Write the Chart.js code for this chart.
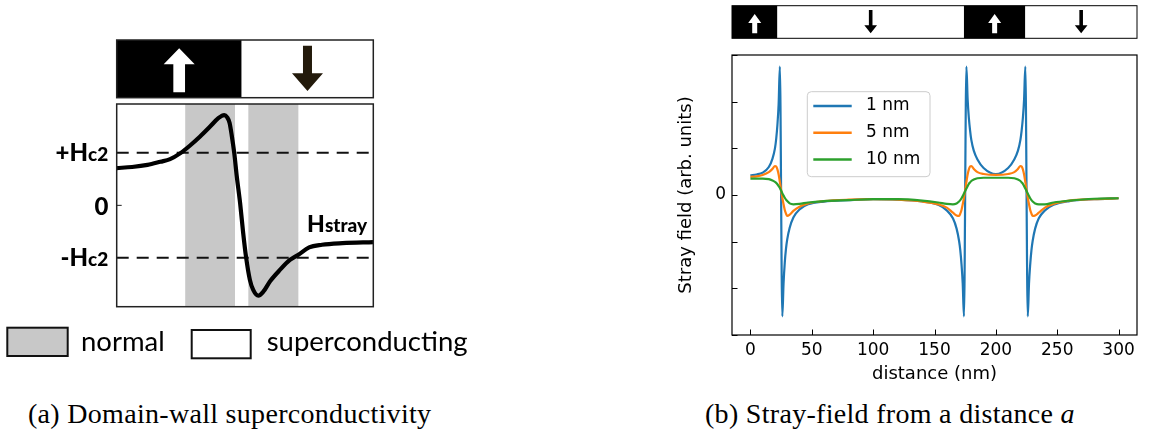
<!DOCTYPE html>
<html>
<head>
<meta charset="utf-8">
<script src="https://cdn.jsdelivr.net/npm/chart.js@4.4.1/dist/chart.umd.min.js"></script>
<style>
  body { margin: 0; background: #fff; width: 1150px; height: 433px; position: relative; overflow: hidden; }
  canvas { position: absolute; }
  #chartA { left: 0; top: 0; }
  #chartB { left: 600px; top: 0; }
  .caption { position: absolute; font-family: "Liberation Serif", serif; font-size: 28px; line-height: 28px;
             letter-spacing: 0.3px; white-space: nowrap; color: #000; }
</style>
</head>
<body>
<canvas id="chartA" width="480" height="380"></canvas>
<canvas id="chartB" width="550" height="395"></canvas>
<div class="caption" style="left:28px; top:400px;">(a) Domain-wall superconductivity</div>
<div class="caption" style="left:705px; top:400px;">(b) Stray-field from a distance <i>a</i></div>
<script>
// ---- panel (a): schematic of H_stray across one domain wall (x in %, y in units of Hc2)
const schemeX = [0, 6, 12, 17, 20.8, 24.7, 28.6, 32.5, 36.4, 39.6, 41.9, 43, 44, 44.9, 45.8, 46.8, 48.1,
                 49.3, 50.4, 51.9, 53.2, 55.2, 57.2, 59.7, 63.6, 67.5, 70.8, 75, 80, 88, 100];
const hStray = [0.71, 0.73, 0.77, 0.83, 0.88, 0.99, 1.14, 1.31, 1.5, 1.66, 1.72, 1.68, 1.57, 1.31, 1.0, 0.55, 0.04,
                -0.53, -0.98, -1.42, -1.61, -1.72, -1.64, -1.45, -1.23, -1.04, -0.94, -0.8, -0.75, -0.72, -0.70];
const hc2Levels = [1, -1];
const normalStart = [26.7, 51.3];
const normalEnd = [46.1, 70.8];
const domainEdgesA = [0, 48.7, 100];
const domainUpA = [true, false];
const yTicksA = [1, 0, -1];
const yTickBig = ['+H', '0', '-H'];
const yTickSmall = ['c2', '', 'c2'];
const legendA = ['normal', 'superconducting'];
const legendFillA = ['#c8c8c8', '#ffffff'];

// ---- panel (b): stray field at distance a
const distance = [0, 5, 10, 15, 18, 20, 21, 22, 23, 24, 26, 27, 28, 29, 30, 32, 35, 40, 47, 60, 80, 100,
                  120, 140, 153, 160, 165, 168, 170, 171, 172, 173, 174, 176, 177, 178, 179, 180, 182, 185, 190,
                  200, 210, 215, 218, 220, 221, 222, 223, 224, 226, 227, 228, 229, 230, 232, 235, 240, 247,
                  260, 280, 300];
const field1nm = [0.42, 0.44, 0.48, 0.6, 0.78, 1.0, 1.2, 1.5, 1.95, 2.75, -2.6, -1.9, -1.45, -1.15, -0.95, -0.7,
                  -0.48, -0.31, -0.2, -0.14, -0.11, -0.09,
                  -0.1, -0.14, -0.21, -0.33, -0.5, -0.72, -0.98, -1.18, -1.48, -1.9, -2.6, 2.75, 2.05, 1.65, 1.38,
                  1.18, 0.95, 0.76, 0.58,
                  0.45, 0.58, 0.76, 0.95, 1.18, 1.38, 1.65, 2.05, 2.75, -2.6, -1.9, -1.48, -1.18, -0.98, -0.72,
                  -0.5, -0.33, -0.21,
                  -0.13, -0.09, -0.07];
const field5nm = [0.39, 0.4, 0.43, 0.49, 0.56, 0.62, 0.61, 0.55, 0.44, 0.28, -0.06, -0.2, -0.32, -0.4, -0.45, -0.42,
                  -0.34, -0.25, -0.18, -0.13, -0.1, -0.09,
                  -0.1, -0.14, -0.2, -0.27, -0.38, -0.44, -0.45, -0.4, -0.32, -0.2, -0.06, 0.28, 0.44, 0.55, 0.61,
                  0.62, 0.56, 0.49, 0.45,
                  0.43, 0.45, 0.49, 0.56, 0.62, 0.61, 0.55, 0.44, 0.28, -0.06, -0.2, -0.32, -0.4, -0.45, -0.44,
                  -0.38, -0.27, -0.19,
                  -0.12, -0.09, -0.07];
const field10nm = [0.35, 0.35, 0.35, 0.34, 0.31, 0.28, 0.26, 0.23, 0.19, 0.15, 0.04, -0.01, -0.06, -0.1, -0.13, -0.18,
                   -0.2, -0.19, -0.16, -0.13, -0.11, -0.09,
                   -0.09, -0.12, -0.16, -0.19, -0.2, -0.18, -0.14, -0.11, -0.07, -0.02, 0.03, 0.14, 0.19, 0.24, 0.27,
                   0.3, 0.33, 0.36, 0.37,
                   0.37, 0.37, 0.36, 0.33, 0.3, 0.27, 0.24, 0.19, 0.14, 0.03, -0.02, -0.07, -0.11, -0.14, -0.18,
                   -0.2, -0.2, -0.16,
                   -0.12, -0.08, -0.07];
const seriesLabels = ['1 nm', '5 nm', '10 nm'];
const seriesColors = ['#1f77b4', '#ff7f0e', '#2ca02c'];
const xTicks = [0, 50, 100, 150, 200, 250, 300];
const yTicks = [-3, -2, -1, 0, 1, 2, 3];
const domainEdges = [-15, 22, 174, 224, 315];
const domainUp = [true, false, true, false];

// draw a block arrow, tip at yTip
function arrow(ctx, cx, yTail, yTip, headW, headH, shaftW, color) {
    const dir = yTip < yTail ? 1 : -1;
    const yBase = yTip + dir * headH;
    ctx.beginPath();
    ctx.moveTo(cx, yTip);
    ctx.lineTo(cx + headW / 2, yBase);
    ctx.lineTo(cx + shaftW / 2, yBase);
    ctx.lineTo(cx + shaftW / 2, yTail);
    ctx.lineTo(cx - shaftW / 2, yTail);
    ctx.lineTo(cx - shaftW / 2, yBase);
    ctx.lineTo(cx - headW / 2, yBase);
    ctx.closePath();
    ctx.fillStyle = color;
    ctx.fill();
}

const schemePlugin = {
    id: 'scheme',
    beforeDatasetsDraw(chart) {
        const { ctx, chartArea: a, scales: { x } } = chart;
        ctx.save();
        ctx.fillStyle = '#c8c8c8';
        normalStart.forEach((s, i) => {
            const x0 = x.getPixelForValue(s);
            const x1 = x.getPixelForValue(normalEnd[i]);
            ctx.fillRect(x0, a.top, x1 - x0, a.bottom - a.top);
        });
        ctx.restore();
    },
    afterDraw(chart) {
        const { ctx, chartArea: a, scales: { x, y } } = chart;
        ctx.save();
        // frame
        ctx.strokeStyle = '#222';
        ctx.lineWidth = 1.5;
        ctx.strokeRect(a.left, a.top, a.right - a.left, a.bottom - a.top);
        ctx.beginPath();
        ctx.moveTo(a.left, y.getPixelForValue(0));
        ctx.lineTo(a.left + 5, y.getPixelForValue(0));
        ctx.lineWidth = 1;
        ctx.stroke();

        // magnetic domains above the plot
        const barTop = a.top - 64, barBot = a.top - 6.3;
        for (let i = 0; i < domainUpA.length; i++) {
            const x0 = x.getPixelForValue(domainEdgesA[i]);
            const x1 = x.getPixelForValue(domainEdgesA[i + 1]);
            const cx = (x0 + x1) / 2;
            ctx.fillStyle = domainUpA[i] ? '#000' : '#fff';
            ctx.fillRect(x0, barTop, x1 - x0, barBot - barTop);
            if (domainUpA[i]) arrow(ctx, cx, barTop + 52.3, barTop + 8.3, 31, 16, 11.7, '#fff');
            else arrow(ctx, cx, barTop + 5.7, barTop + 51, 31, 17.7, 9, '#231a0b');
        }
        ctx.strokeStyle = '#222';
        ctx.lineWidth = 1.5;
        ctx.strokeRect(x.getPixelForValue(0), barTop, x.getPixelForValue(100) - x.getPixelForValue(0), barBot - barTop);

        // y labels (+Hc2, 0, -Hc2)
        ctx.fillStyle = '#000';
        ctx.textBaseline = 'alphabetic';
        ctx.textAlign = 'left';
        const rightX = a.left - 8.4;
        yTicksA.forEach((v, i) => {
            const yy = y.getPixelForValue(v) + 8;
            ctx.font = '900 19px Lato';
            const ws = ctx.measureText(yTickSmall[i]).width;
            ctx.fillText(yTickSmall[i], rightX - ws, yy);
            ctx.font = '900 24px Lato';
            const wb = ctx.measureText(yTickBig[i]).width;
            ctx.fillText(yTickBig[i], rightX - ws - wb, yy + (yTickSmall[i] ? 0 : 1.5));
        });

        // curve label
        ctx.font = '900 23px Lato';
        const hx = x.getPixelForValue(74.2), hy = y.getPixelForValue(-0.5);
        ctx.fillText('H', hx, hy);
        const hw = ctx.measureText('H').width;
        ctx.font = '900 19px Lato';
        ctx.fillText('stray', hx + hw, hy);

        // legend boxes
        const boxes = [[7.3, 327.7, 60.4, 28.3, 81], [191.7, 330, 59, 28.3, 266.7]];
        ctx.font = '27.5px Lato';
        boxes.forEach((b, i) => {
            ctx.fillStyle = legendFillA[i];
            ctx.fillRect(b[0], b[1], b[2], b[3]);
            ctx.lineWidth = 2;
            ctx.strokeStyle = '#111';
            ctx.strokeRect(b[0], b[1], b[2], b[3]);
            ctx.fillStyle = '#000';
            ctx.fillText(legendA[i], b[4], 351);
        });
        ctx.restore();
    }
};

new Chart(document.getElementById('chartA'), {
    type: 'line',
    data: {
        datasets: [{
            data: schemeX.map((v, i) => ({ x: v, y: hStray[i] })),
            borderColor: '#000',
            borderWidth: 4.2,
            pointRadius: 0,
            cubicInterpolationMode: 'monotone',
            borderJoinStyle: 'round'
        }].concat(hc2Levels.map(l => ({
            data: [{ x: 0, y: l }, { x: 100, y: l }],
            borderColor: '#111',
            borderWidth: 2,
            borderDash: [12, 8],
            pointRadius: 0
        })))
    },
    options: {
        responsive: false,
        animation: false,
        layout: { padding: { left: 116.7, top: 104, right: 106.7, bottom: 73.3 } },
        plugins: { legend: { display: false }, tooltip: { enabled: false } },
        scales: {
            x: { type: 'linear', min: 0, max: 100, display: false },
            y: { type: 'linear', min: -1.93, max: 1.93, display: false }
        }
    },
    plugins: [schemePlugin]
});

const framePlugin = {
    id: 'frameB',
    afterDraw(chart) {
        const { ctx, chartArea: a, scales: { x, y } } = chart;
        ctx.save();
        ctx.strokeStyle = '#000';
        ctx.lineWidth = 1.2;
        ctx.strokeRect(a.left, a.top, a.right - a.left, a.bottom - a.top);
        ctx.beginPath();
        xTicks.forEach(v => {
            const px = Math.round(x.getPixelForValue(v)) + 0.5;
            ctx.moveTo(px, a.bottom);
            ctx.lineTo(px, a.bottom - 5.5);
        });
        yTicks.forEach(v => {
            const py = Math.round(y.getPixelForValue(v)) + 0.5;
            ctx.moveTo(a.left, py);
            ctx.lineTo(a.left + 5.5, py);
        });
        ctx.lineWidth = 1;
        ctx.stroke();

        // legend
        const lx = a.left + 75.3, ly = a.top + 36.7, lw = 122.7, lh = 85;
        ctx.beginPath();
        ctx.roundRect(lx, ly, lw, lh, 4);
        ctx.fillStyle = 'rgba(255,255,255,0.8)';
        ctx.fill();
        ctx.strokeStyle = '#cccccc';
        ctx.lineWidth = 1;
        ctx.stroke();
        ctx.font = '17px "DejaVu Sans"';
        ctx.textBaseline = 'middle';
        ctx.textAlign = 'left';
        chart.data.datasets.forEach((ds, i) => {
            const ry = ly + 14.3 + i * 26.7;
            ctx.beginPath();
            ctx.moveTo(lx + 6, ry);
            ctx.lineTo(lx + 44.4, ry);
            ctx.strokeStyle = ds.borderColor;
            ctx.lineWidth = 2.5;
            ctx.stroke();
            ctx.fillStyle = '#000';
            ctx.fillText(ds.label, lx + 58.7, ry);
        });

        // domain strip above the plot
        const bTop = 5.7, bBot = 38.3;
        for (let i = 0; i < domainUp.length; i++) {
            const x0 = x.getPixelForValue(domainEdges[i]);
            const x1 = x.getPixelForValue(domainEdges[i + 1]);
            const cx = (x0 + x1) / 2;
            ctx.fillStyle = domainUp[i] ? '#000' : '#fff';
            ctx.fillRect(x0, bTop, x1 - x0, bBot - bTop);
            if (domainUp[i]) arrow(ctx, cx, 33.3, 14, 13, 9, 5, '#fff');
            else arrow(ctx, cx, 10, 33.3, 12.7, 8, 3.6, '#000');
        }
        ctx.strokeStyle = '#000';
        ctx.lineWidth = 1;
        const sx0 = x.getPixelForValue(domainEdges[0]);
        const sx1 = x.getPixelForValue(domainEdges[domainEdges.length - 1]);
        ctx.strokeRect(sx0, bTop, sx1 - sx0, bBot - bTop);
        ctx.restore();
    }
};

const fields = [field1nm, field5nm, field10nm];

new Chart(document.getElementById('chartB'), {
    type: 'line',
    data: {
        datasets: fields.map((f, k) => ({
            label: seriesLabels[k],
            data: distance.map((d, i) => ({ x: d, y: f[i] })),
            borderColor: seriesColors[k],
            borderWidth: 2.2,
            pointRadius: 0,
            cubicInterpolationMode: 'monotone',
            order: 2 - k
        }))
    },
    options: {
        responsive: false,
        animation: false,
        layout: { padding: { left: 72, top: 55, right: 13, bottom: 10 } },
        plugins: { legend: { display: false }, tooltip: { enabled: false } },
        scales: {
            x: {
                type: 'linear', min: -15, max: 315,
                afterBuildTicks: s => { s.ticks = xTicks.map(v => ({ value: v })); },
                afterFit: s => { s.height = 50; },
                grid: { display: false, drawTicks: false },
                border: { display: false },
                ticks: { color: '#000', font: { family: 'DejaVu Sans', size: 17 }, padding: 5, maxRotation: 0 },
                title: { display: true, text: 'distance (nm)', color: '#000',
                         font: { family: 'DejaVu Sans', size: 18 }, padding: { top: 1, bottom: 0 } }
            },
            y: {
                type: 'linear', min: -3, max: 3,
                afterBuildTicks: s => { s.ticks = yTicks.map(v => ({ value: v })); },
                afterFit: s => { s.width = 60; },
                grid: { display: false, drawTicks: false },
                border: { display: false },
                ticks: { color: '#000', font: { family: 'DejaVu Sans', size: 17 }, padding: 6,
                         callback: v => (v === 0 ? '0' : '') },
                title: { display: true, text: 'Stray field (arb. units)', color: '#000',
                         font: { family: 'DejaVu Sans', size: 18 }, padding: { top: 4, bottom: 0 } }
            }
        }
    },
    plugins: [framePlugin]
});
</script>
</body>
</html>
